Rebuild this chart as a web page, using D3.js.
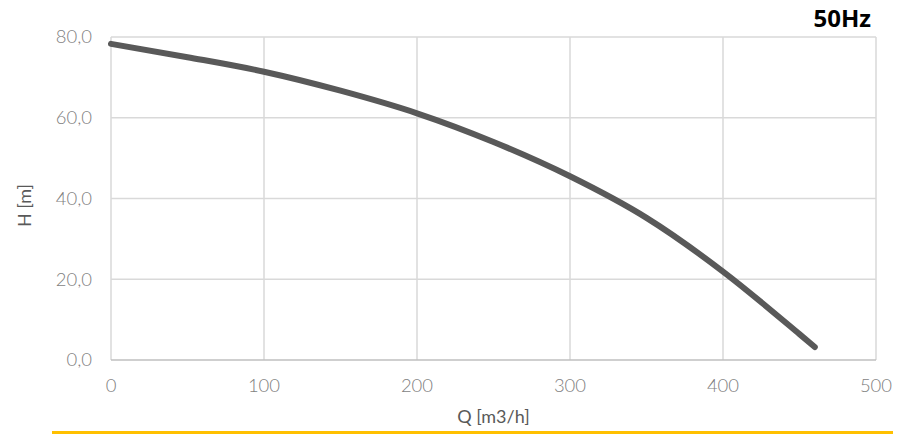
<!DOCTYPE html>
<html>
<head>
<meta charset="utf-8">
<script src="https://cdn.jsdelivr.net/npm/d3@7"></script>
<style>
  html, body { margin: 0; padding: 0; background: #fff; }
  svg { display: block; }
</style>
</head>
<body>
<div id="chart"></div>
<script>
// Pump curve, 50Hz
const flowQ = [0, 50, 100, 150, 200, 250, 300, 350, 400, 450, 460];
const headH = [78.3, 75.0, 71.4, 66.7, 61.1, 54.0, 45.5, 35.2, 21.9, 6.4, 3.2];
const xTicks = [0, 100, 200, 300, 400, 500];
const yTicks = [0, 20, 40, 60, 80];

const W = 909, H = 434;
const margin = { top: 37, right: 33, bottom: 74, left: 111 };

const svg = d3.select('#chart').append('svg')
  .attr('width', W)
  .attr('height', H);

const x = d3.scaleLinear().domain([0, 500]).range([margin.left, W - margin.right]);
const y = d3.scaleLinear().domain([0, 80]).range([H - margin.bottom, margin.top]);

const font = 'Lato, "Open Sans", sans-serif';

// Grid
svg.append('g')
  .selectAll('line')
  .data(xTicks)
  .join('line')
  .attr('x1', d => x(d)).attr('x2', d => x(d))
  .attr('y1', y(80)).attr('y2', y(0))
  .attr('stroke', '#d9d9d9')
  .attr('stroke-width', 1.5);

svg.append('g')
  .selectAll('line')
  .data(yTicks.filter(d => d > 0))
  .join('line')
  .attr('x1', x(0)).attr('x2', x(500))
  .attr('y1', d => y(d)).attr('y2', d => y(d))
  .attr('stroke', '#d9d9d9')
  .attr('stroke-width', 1.5);

// Bottom axis line
svg.append('line')
  .attr('x1', x(0)).attr('x2', x(500))
  .attr('y1', y(0)).attr('y2', y(0))
  .attr('stroke', '#bfbfbf')
  .attr('stroke-width', 1.5);

// Tick labels
const fmt = d => d3.format('.1f')(d).replace('.', ',');

svg.append('g')
  .selectAll('text')
  .data(yTicks)
  .join('text')
  .attr('x', x(0) - 19)
  .attr('y', d => y(d))
  .attr('dy', '0.35em')
  .attr('text-anchor', 'end')
  .attr('font-family', font)
  .attr('font-weight', 300)
  .attr('font-size', '18.5px')
  .attr('fill', '#7f7f7f')
  .text(fmt);

svg.append('g')
  .selectAll('text')
  .data(xTicks)
  .join('text')
  .attr('x', d => x(d))
  .attr('y', 392)
  .attr('text-anchor', 'middle')
  .attr('font-family', font)
  .attr('font-weight', 300)
  .attr('font-size', '18.5px')
  .attr('fill', '#7f7f7f')
  .text(d => d);

// Axis titles
svg.append('text')
  .attr('x', (x(0) + x(500)) / 2)
  .attr('y', 423)
  .attr('text-anchor', 'middle')
  .attr('font-family', font)
  .attr('font-size', '18px')
  .attr('fill', '#595959')
  .text('Q [m3/h]');

svg.append('text')
  .attr('transform', `translate(31,${(y(0) + y(80)) / 2 + 7}) rotate(-90)`)
  .attr('text-anchor', 'middle')
  .attr('font-family', font)
  .attr('font-size', '18px')
  .attr('fill', '#595959')
  .text('H [m]');

// Frequency label
svg.append('text')
  .attr('x', 871)
  .attr('y', 27)
  .attr('text-anchor', 'end')
  .attr('font-family', '"Open Sans", sans-serif')
  .attr('font-weight', 700)
  .attr('font-size', '24px')
  .attr('fill', '#000')
  .text('50Hz');

// Curve
const pts = flowQ.map((q, i) => [q, headH[i]]);
svg.append('path')
  .datum(pts)
  .attr('fill', 'none')
  .attr('stroke', '#595959')
  .attr('stroke-width', 6)
  .attr('stroke-linecap', 'round')
  .attr('stroke-linejoin', 'round')
  .attr('d', d3.line().x(d => x(d[0])).y(d => y(d[1])).curve(d3.curveMonotoneX));

// Yellow rule under the chart
svg.append('line')
  .attr('x1', 52).attr('x2', 893)
  .attr('y1', 432.5).attr('y2', 432.5)
  .attr('stroke', '#ffc000')
  .attr('stroke-width', 3);
</script>
</body>
</html>
